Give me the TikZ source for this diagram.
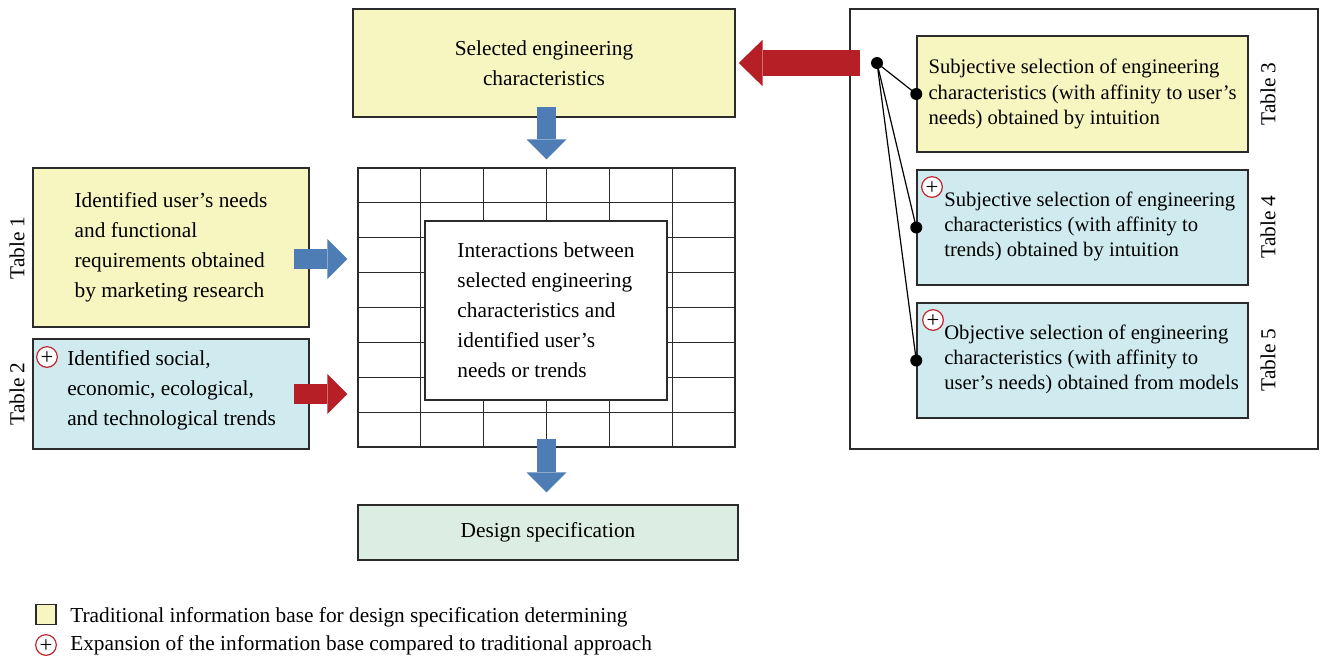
\documentclass[tikz,border=0pt]{standalone}
\usepackage{fontspec}
\setmainfont{Liberation Serif}
\usetikzlibrary{arrows.meta,calc}
\definecolor{paleyellow}{HTML}{F7F5C0}
\definecolor{paleblue}{HTML}{D0EBEF}
\definecolor{palegreen}{HTML}{DCEDE3}
\definecolor{arrowblue}{HTML}{4E7CB4}
\definecolor{arrowred}{HTML}{B51F25}
\definecolor{plusred}{HTML}{C0272D}
\definecolor{edge}{HTML}{2B2B2B}
\tikzset{
  body/.style={font=\fontsize{16}{22.5}\selectfont,align=left,inner sep=0pt},
  small/.style={font=\fontsize{15.5}{18.8}\selectfont,align=left,inner sep=0pt},
  tablabel/.style={font=\fontsize{16}{18}\selectfont,rotate=90,inner sep=0pt},
  infobox/.style={draw=edge,line width=1.1pt,inner sep=0pt},
  oldbox/.style={infobox,fill=paleyellow},
  newbox/.style={infobox,fill=paleblue},
  plusmark/.style={circle,draw=plusred,fill=white,line width=0.9pt,minimum size=15.5pt,inner sep=0pt,text height=11pt,text depth=0pt,font=\fontsize{17}{17}\selectfont},
  joint/.style={circle,fill=black,minimum size=9pt,inner sep=0pt},
  link/.style={draw=black,line width=0.9pt},
  fatblue/.style={draw=arrowblue,line width=14.5pt,-{Triangle[length=15pt,width=30pt,line width=0pt 0 0]}},
  fatred/.style={draw=arrowred,line width=14.5pt,-{Triangle[length=15pt,width=30pt,line width=0pt 0 0]}},
  bigred/.style={draw=arrowred,line width=19.5pt,-{Triangle[length=18pt,width=35pt,line width=0pt 0 0]}}
}
\begin{document}
\begin{tikzpicture}[x=0.75pt,y=-0.75pt]
\path[use as bounding box] (0,0) rectangle (1320,658);
% centre column
\node[oldbox,body,align=center,minimum width=286.5pt,minimum height=81pt] (sel) at (544,63) {Selected engineering\\characteristics};
\node[infobox,minimum width=282.75pt,minimum height=209.25pt] (grid) at (546.5,307.5) {};
\foreach \k in {1,...,5}
  \draw[edge,line width=1.1pt] ($(grid.north west)!\k/6!(grid.north east)$) -- ($(grid.south west)!\k/6!(grid.south east)$);
\foreach \k in {1,...,7}
  \draw[edge,line width=1.1pt] ($(grid.north west)!\k/8!(grid.south west)$) -- ($(grid.north east)!\k/8!(grid.south east)$);
\node[infobox,fill=white,body,minimum width=181.5pt,minimum height=134.25pt] (inter) at (546,310.5) {Interactions between\\selected engineering\\characteristics and\\identified user's\\needs or trends};
\node[infobox,fill=palegreen,body,minimum width=285pt,minimum height=41.25pt] (spec) at (548,532.5) {Design specification};
\draw[fatblue] ([shift={(0,-11)}]sel.south -| grid.north) -- ([shift={(0,-8)}]grid.north);
\draw[fatblue] ([shift={(0,-9)}]grid.south) -- ([shift={(0,-12)}]spec.north -| grid.south);
% left column
\node[oldbox,body,minimum width=207pt,minimum height=119.25pt] (needs) at (171,247.5) {Identified user's needs\\and functional\\requirements obtained\\by marketing research};
\node[newbox,minimum width=207pt,minimum height=82.5pt] (trends) at (171,394) {};
\node[body,anchor=west] (trendstxt) at (67,390.5) {Identified social,\\economic, ecological,\\and technological trends};
\node[plusmark] (plustrends) at (47,357) {+};
\node[tablabel] (tab1) at (17,248) {Table 1};
\node[tablabel] (tab2) at (17,394) {Table 2};
\draw[fatblue] ([shift={(-16,11.5)}]needs.east) coordinate (needsout) -- ([xshift=-7.5pt]grid.west |- needsout);
\draw[fatred] ([xshift=-12pt]trends.east) -- ([xshift=-7.5pt]grid.west |- trends.east);
% right column
\node[infobox,fill=white,line width=0.8pt,minimum width=351pt,minimum height=330pt] (sources) at (1084,229) {};
\node[oldbox,small,minimum width=248.25pt,minimum height=87pt] (intneeds) at (1082.5,94) {Subjective selection of engineering\\characteristics (with affinity to user's\\needs) obtained by intuition};
\node[newbox,minimum width=248.25pt,minimum height=86.25pt] (inttrends) at (1082.5,227.5) {};
\node[small,anchor=west] (inttrendstxt) at (944,226.5) {Subjective selection of engineering\\characteristics (with affinity to\\trends) obtained by intuition};
\node[newbox,minimum width=248.25pt,minimum height=86.25pt] (models) at (1082.5,360.5) {};
\node[small,anchor=west] (modelstxt) at (944,359.5) {Objective selection of engineering\\characteristics (with affinity to\\user's needs) obtained from models};
\node[plusmark] (plusint) at (932,187) {+};
\node[plusmark] (plusmodels) at (933,320) {+};
\node[tablabel] (tab3) at (1268,94) {Table 3};
\node[tablabel] (tab4) at (1268,227) {Table 4};
\node[tablabel] (tab5) at (1268,360) {Table 5};
\node[joint] (hub) at (877,63) {};
\node[joint] (j3) at (intneeds.west) {};
\node[joint] (j4) at (inttrends.west) {};
\node[joint] (j5) at (models.west) {};
\foreach \j in {j3,j4,j5}
  \draw[link] (hub.center) -- (\j.center);
\draw[bigred] ([xshift=8.25pt]sources.west |- hub) -- ([xshift=2.25pt]sel.east |- hub);
% legend
\node[infobox,fill=paleyellow,line width=0.8pt,minimum size=15pt] (key1) at (46,614.5) {};
\node[body,anchor=west] (key1txt) at (70,617) {Traditional information base for design specification determining};
\node[plusmark] (key2) at (46,645) {+};
\node[body,anchor=west] (key2txt) at (70,645) {Expansion of the information base compared to traditional approach};
\end{tikzpicture}
\end{document}
